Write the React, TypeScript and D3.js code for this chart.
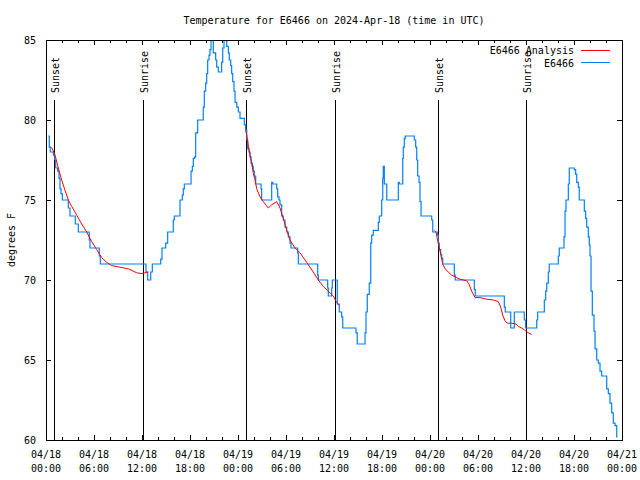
import React from 'react';
import * as d3 from 'd3';

const W = 640;
const H = 480;
const PL = 46, PR = 622, PT = 40, PB = 440;

// Observed station temperature (hours since 04/18 00:00 UTC, degrees F)
const blueHours = [
  0.29, 0.41, 0.54, 0.91, 1.09, 1.21, 1.46, 1.63, 1.75, 1.88, 2.04, 2.79, 3.0, 3.66, 4.04, 5.41, 5.5, 6.66, 6.79,
  12.5, 12.71, 13.09, 13.29, 14.34, 14.5, 14.96, 15.21, 15.91, 16.04, 16.75, 17.04, 17.16, 17.29, 18.13, 18.29,
  18.41, 18.59, 18.71, 18.96, 19.66, 19.79, 19.96, 20.09, 20.21, 20.38, 20.5, 20.63, 20.91, 21.21, 21.34, 21.54,
  21.96, 22.09, 22.25, 22.59, 22.79, 22.91, 23.09, 23.21, 23.34, 23.5, 23.63, 23.84, 24.04, 24.25, 24.79, 24.96,
  25.09, 25.21, 25.38, 25.5, 25.63, 25.79, 25.91, 26.04, 26.21, 26.88, 26.96, 28.21, 28.34, 28.84, 28.96, 29.13,
  29.25, 29.46, 29.66, 29.88, 30.09, 30.29, 30.5, 30.63, 31.46, 31.54, 33.96, 34.04, 35.21, 35.29, 35.71, 35.79,
  36.41, 36.66, 36.96, 37.09, 38.75, 38.91, 39.88, 40.0, 40.16, 40.41, 40.59, 40.71, 40.91, 41.54, 41.66, 41.96,
  42.09, 42.16, 42.29, 42.59, 44.04, 44.16, 44.59, 44.66, 44.79, 44.91, 46.04, 46.21, 46.34, 46.46, 46.63, 46.75,
  46.88, 48.21, 48.34, 48.91, 49.04, 49.16, 49.34, 49.46, 49.59, 51.04, 51.16, 53.54, 53.66, 57.29, 57.41, 58.09,
  58.54, 59.79, 59.96, 61.34, 61.46, 62.29, 62.46, 62.59, 62.79, 62.91, 64.04, 64.16, 64.75, 64.88, 65.0, 65.29,
  65.41, 66.04, 66.21, 66.34, 66.54, 66.66, 67.29, 67.46, 67.59, 67.79, 67.91, 68.0, 68.13, 68.29, 68.5, 68.63,
  68.84, 69.04, 69.25, 69.46, 70.09, 70.29, 70.5, 70.71, 70.91, 71.13, 71.34, 71.44,
];
const blueTemps = [
  79.0, 78.3, 78.0, 77.8, 77.5, 77.0, 76.8, 76.35, 75.7, 75.4, 75.0, 74.5, 74.0, 73.5, 73.0, 72.5, 72.0, 71.5, 71.0,
  70.5, 70.0, 70.5, 71.0, 71.3, 72.0, 72.3, 73.0, 73.75, 74.0, 75.0, 75.3, 75.7, 76.0, 76.8, 77.1,
  77.6, 77.7, 79.2, 80.0, 80.8, 81.8, 82.3, 82.9, 83.75, 84.06, 84.4, 85.4, 84.2, 83.75, 83.3, 83.0,
  83.6, 84.5, 85.4, 84.6, 84.2, 83.75, 83.4, 82.9, 82.4, 81.8, 81.1, 80.8, 80.5, 80.1, 79.7, 79.4,
  78.75, 78.2, 78.0, 77.7, 77.3, 77.1, 76.8, 76.5, 76.0, 75.7, 75.0, 76.1, 76.0, 75.7, 75.2, 75.0,
  74.7, 74.0, 73.75, 73.3, 73.0, 72.7, 72.3, 72.0, 71.7, 71.0, 70.3, 70.0, 69.5, 69.0, 69.5, 70.0,
  68.5, 68.0, 67.7, 67.0, 66.7, 66.0, 66.7, 68.0, 69.1, 69.8, 72.3, 72.8, 73.1, 73.6, 74.0, 75.0,
  76.35, 77.1, 76.0, 75.0, 76.1, 76.0, 77.6, 78.3, 78.85, 79.0, 78.75, 78.3, 77.5, 76.5, 76.1, 74.9,
  74.0, 73.75, 73.0, 72.8, 72.3, 71.9, 71.6, 71.35, 71.0, 70.3, 70.0, 69.4, 69.0, 68.3, 68.0, 67.0,
  68.0, 67.5, 67.0, 67.5, 68.0, 68.75, 69.3, 69.8, 70.5, 71.0, 71.5, 72.0, 72.7, 74.3, 75.0, 76.0,
  77.0, 76.9, 76.6, 76.1, 75.8, 75.0, 74.3, 73.85, 73.3, 72.7, 72.2, 71.5, 69.3, 67.8, 66.8, 65.7,
  65.0, 64.8, 64.3, 64.0, 63.2, 62.9, 62.3, 61.7, 61.05, 60.9, 60.2, 60.2,
];

// Analysis (nighttime) segments
const analysis1Hours = [0.66, 0.79, 1.13, 1.54, 1.96, 2.38, 2.79, 3.21, 3.84, 4.46, 5.09, 5.71, 6.34, 6.96, 7.59, 8.21, 9.25, 10.29, 11.34, 11.96, 12.79];
const analysis1Temps = [78.3, 78.2, 77.8, 77.0, 76.25, 75.6, 75.0, 74.6, 74.05, 73.5, 73.0, 72.4, 71.9, 71.4, 71.1, 70.9, 70.8, 70.7, 70.45, 70.4, 70.5];
const analysis2Hours = [24.94, 25.09, 25.29, 25.5, 25.71, 25.91, 26.13, 26.34, 26.75, 27.16, 27.79, 28.21, 28.84, 29.25, 29.66, 30.09, 30.5, 31.13, 31.75, 32.59, 33.41, 34.04, 34.66, 35.29, 35.91, 36.34, 36.63];
const analysis2Temps = [79.4, 79.06, 78.4, 77.8, 77.3, 76.7, 76.25, 75.7, 75.2, 74.9, 74.5, 74.7, 74.9, 74.5, 73.85, 73.1, 72.5, 72.0, 71.7, 71.1, 70.5, 70.0, 69.6, 69.3, 69.0, 68.6, 68.4];
const analysis3Hours = [48.56, 48.75, 48.91, 49.13, 49.34, 49.59, 49.88, 50.29, 50.71, 51.13, 51.75, 52.59, 52.91, 53.21, 53.63, 54.25, 55.09, 55.91, 56.54, 56.84, 57.09, 57.38, 57.66, 58.21, 58.75, 59.04, 59.46, 59.88, 60.29, 60.71];
const analysis3Temps = [73.1, 73.0, 72.6, 72.1, 71.6, 71.0, 70.7, 70.5, 70.3, 70.2, 70.05, 69.95, 69.7, 69.3, 68.9, 68.9, 68.8, 68.75, 68.65, 68.3, 67.8, 67.45, 67.3, 67.3, 67.25, 67.1, 67.0, 66.85, 66.7, 66.6];

const sunHours = [1.04, 12.16, 25.04, 36.16, 49.04, 60.04];
const sunLabels = ['Sunset', 'Sunrise', 'Sunset', 'Sunrise', 'Sunset', 'Sunrise'];

const xTickHours = [0, 6, 12, 18, 24, 30, 36, 42, 48, 54, 60, 66, 72];
const xTickDates = ['04/18', '04/18', '04/18', '04/18', '04/19', '04/19', '04/19', '04/19', '04/20', '04/20', '04/20', '04/20', '04/21'];
const xTickTimes = ['00:00', '06:00', '12:00', '18:00', '00:00', '06:00', '12:00', '18:00', '00:00', '06:00', '12:00', '18:00', '00:00'];
const xMinorHours = d3.range(0, 73, 2).filter((h) => h % 6 !== 0);
const yTicks = [60, 65, 70, 75, 80, 85];

const title = 'Temperature for E6466 on 2024-Apr-18 (time in UTC)';
const yLabel = 'degrees F';
const legendNames = ['E6466 Analysis', 'E6466'];

const BLUE = '#0080ff';
const RED = '#ff0000';
const FONT = '"DejaVu Sans Mono", "Liberation Mono", monospace';

export default function App() {
  const x = d3.scaleLinear().domain([0, 72]).range([PL, PR]);
  const y = d3.scaleLinear().domain([60, 85]).range([PB, PT]);

  const stepLine = d3.line<number>()
    .x((_, i) => x(blueHours[i]))
    .y((d) => y(d))
    .curve(d3.curveStepAfter);
  const bluePath = stepLine(blueTemps) || '';

  const mk = (hs: number[], ts: number[]) =>
    d3.line<number>().x((_, i) => x(hs[i])).y((d) => y(d))(ts) || '';
  const redPaths = [
    mk(analysis1Hours, analysis1Temps),
    mk(analysis2Hours, analysis2Temps),
    mk(analysis3Hours, analysis3Temps),
  ];

  const MAJ = 5, MIN = 3;

  return (
    <svg width={W} height={H} viewBox={`0 0 ${W} ${H}`}
      style={{ position: 'absolute', left: 0, top: 0, background: '#fff' }}
      fontFamily={FONT} fontSize={10}>
      <rect x={0} y={0} width={W} height={H} fill="#fff" />
      <defs>
        <clipPath id="plotclip">
          <rect x={PL} y={PT} width={PR - PL} height={PB - PT} />
        </clipPath>
      </defs>

      <text x={(PL + PR) / 2} y={24} textAnchor="middle" fill="#000">{title}</text>

      {/* y ticks */}
      {yTicks.map((t) => (
        <g key={'y' + t} shapeRendering="crispEdges">
          <line x1={PL} x2={PL + MAJ} y1={y(t)} y2={y(t)} stroke="#000" />
          <line x1={PR} x2={PR - MAJ} y1={y(t)} y2={y(t)} stroke="#000" />
          <text x={36} y={y(t) + 3.5} textAnchor="end" fill="#000">{t}</text>
        </g>
      ))}

      {/* x ticks */}
      {xTickHours.map((h, i) => (
        <g key={'x' + h}>
          <line x1={x(h)} x2={x(h)} y1={PB} y2={PB - MAJ} stroke="#000" shapeRendering="crispEdges" />
          <line x1={x(h)} x2={x(h)} y1={PT} y2={PT + MAJ} stroke="#000" shapeRendering="crispEdges" />
          <text x={x(h)} y={457.5} textAnchor="middle" fill="#000">{xTickDates[i]}</text>
          <text x={x(h)} y={471.5} textAnchor="middle" fill="#000">{xTickTimes[i]}</text>
        </g>
      ))}
      {xMinorHours.map((h) => (
        <g key={'m' + h} shapeRendering="crispEdges">
          <line x1={x(h)} x2={x(h)} y1={PB} y2={PB - MIN} stroke="#000" />
          <line x1={x(h)} x2={x(h)} y1={PT} y2={PT + MIN} stroke="#000" />
        </g>
      ))}

      <text transform={`translate(15,${(PT + PB) / 2}) rotate(-90)`} textAnchor="middle" fill="#000">{yLabel}</text>

      {/* sunrise / sunset markers */}
      {sunHours.map((h, i) => (
        <g key={'s' + i}>
          <line x1={x(h)} x2={x(h)} y1={100} y2={PB} stroke="#000" shapeRendering="crispEdges" />
          <text transform={`translate(${x(h) + 5},93) rotate(-90)`} textAnchor="start" fill="#000">{sunLabels[i]}</text>
        </g>
      ))}

      <g clipPath="url(#plotclip)">
        <path d={bluePath} fill="none" stroke={BLUE} strokeWidth={1.2} />
        {redPaths.map((d, i) => (
          <path key={'r' + i} d={d} fill="none" stroke={RED} strokeWidth={1} />
        ))}
      </g>

      {/* legend */}
      <text x={574} y={54} textAnchor="end" fill="#000">{legendNames[0]}</text>
      <line x1={581} x2={610} y1={50} y2={50} stroke={RED} shapeRendering="crispEdges" />
      <text x={574} y={66.5} textAnchor="end" fill="#000">{legendNames[1]}</text>
      <line x1={581} x2={610} y1={62} y2={62} stroke={BLUE} shapeRendering="crispEdges" />

      <rect x={PL} y={PT} width={PR - PL} height={PB - PT} fill="none" stroke="#000" shapeRendering="crispEdges" />
    </svg>
  );
}
